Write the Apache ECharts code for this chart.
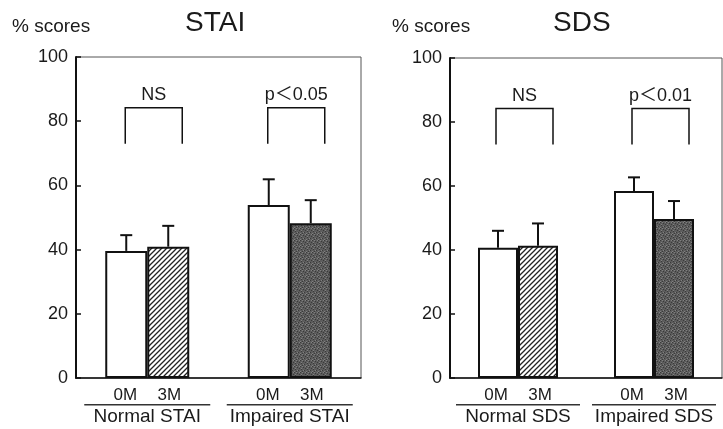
<!DOCTYPE html>
<html>
<head>
<meta charset="utf-8">
<script src="https://cdn.jsdelivr.net/npm/echarts@6/dist/echarts.min.js"></script>
<style>
  html, body { margin: 0; padding: 0; background: #fff; }
  #main { width: 723px; height: 429px; }
</style>
</head>
<body>
<div id="main"></div>
<script>
// 数据
var staiGroups = ['Normal STAI', 'Impaired STAI'];
var sdsGroups = ['Normal SDS', 'Impaired SDS'];
var timeLabels = ['0M', '3M'];
var stai0M = [39.6, 53.9];
var stai0MSd = [4.9, 8.0];
var stai3M = [40.9, 48.2];
var stai3MSd = [6.5, 7.2];
var sds0M = [40.7, 58.4];
var sds0MSd = [5.3, 4.3];
var sds3M = [41.3, 49.7];
var sds3MSd = [7.0, 5.6];
var staiMarks = ['NS', 'p＜0.05'];
var sdsMarks = ['NS', 'p＜0.01'];
var bracketTop = 84.2;
var bracketFoot = 73;

var FONT = '"Liberation Sans", Arial, "Noto Sans CJK SC", sans-serif';
var INK = '#111';
var TXT = '#1a1a1a';

// 斜线填充
function hatchCanvas() {
  var c = document.createElement('canvas');
  c.width = 5; c.height = 5;
  var g = c.getContext('2d');
  g.fillStyle = '#fff';
  g.fillRect(0, 0, 5, 5);
  g.strokeStyle = '#222';
  g.lineWidth = 1.3;
  g.beginPath();
  g.moveTo(0, 5); g.lineTo(5, 0);
  g.moveTo(-1, 1); g.lineTo(1, -1);
  g.moveTo(4, 6); g.lineTo(6, 4);
  g.stroke();
  return c;
}
// 点状灰色填充
function stippleCanvas() {
  var c = document.createElement('canvas');
  c.width = 6; c.height = 6;
  var g = c.getContext('2d');
  g.fillStyle = '#5c5c5c';
  g.fillRect(0, 0, 6, 6);
  g.fillStyle = '#3a3a3a';
  [[0, 0], [3, 1], [5, 2], [1, 3], [4, 4], [2, 5]].forEach(function (p) { g.fillRect(p[0], p[1], 1, 1); });
  g.fillStyle = '#808080';
  [[2, 0], [5, 0], [1, 2], [3, 4], [0, 5]].forEach(function (p) { g.fillRect(p[0], p[1], 1, 1); });
  return c;
}
var hatch = { image: hatchCanvas(), repeat: 'repeat' };
var stipple = { image: stippleCanvas(), repeat: 'repeat' };

function barSeries(p, m0, m3, bw) {
  return [{
    type: 'bar', xAxisIndex: p, yAxisIndex: p, barWidth: bw, barGap: '0%',
    data: m0,
    itemStyle: { color: '#fff', borderColor: INK, borderWidth: 2 },
    z: 2
  }, {
    type: 'bar', xAxisIndex: p, yAxisIndex: p, barWidth: bw, barGap: '0%',
    data: m3.map(function (v, i) {
      return { value: v, itemStyle: { color: i === 0 ? hatch : stipple } };
    }),
    itemStyle: { borderColor: INK, borderWidth: 2 },
    z: 2
  }];
}

// 误差线
function errorSeries(p, means, sds, side, bw) {
  return {
    type: 'custom', xAxisIndex: p, yAxisIndex: p, z: 3,
    data: means.map(function (m, i) { return [i, m, m + sds[i]]; }),
    renderItem: function (params, api) {
      var base = api.coord([api.value(0), api.value(1)]);
      var top = api.coord([api.value(0), api.value(2)]);
      var x = base[0] + side * bw / 2;
      return {
        type: 'group',
        children: [
          { type: 'line', shape: { x1: x, y1: base[1], x2: x, y2: top[1] }, style: { stroke: INK, lineWidth: 2 } },
          { type: 'line', shape: { x1: x - 6, y1: top[1], x2: x + 6, y2: top[1] }, style: { stroke: INK, lineWidth: 2 } }
        ]
      };
    }
  };
}

// 显著性括号
function bracketSeries(p, marks) {
  return {
    type: 'custom', xAxisIndex: p, yAxisIndex: p, z: 3,
    data: marks.map(function (t, i) { return [i, bracketTop, bracketFoot]; }),
    renderItem: function (params, api) {
      var top = api.coord([api.value(0), api.value(1)]);
      var foot = api.coord([api.value(0), api.value(2)]);
      var x0 = top[0] - 22, x1 = top[0] + 35;
      return {
        type: 'group',
        children: [
          { type: 'polyline', shape: { points: [[x0, foot[1]], [x0, top[1]], [x1, top[1]], [x1, foot[1]]] },
            style: { stroke: INK, lineWidth: 1.5, fill: null } },
          { type: 'text', x: (x0 + x1) / 2, y: top[1] - 4,
            style: { text: marks[params.dataIndex], fill: TXT, font: '18px ' + FONT, textAlign: 'center', textVerticalAlign: 'bottom' } }
        ]
      };
    }
  };
}

function yAxis(p) {
  return {
    type: 'value', gridIndex: p, min: 0, max: 100, interval: 20,
    axisLine: { show: true, lineStyle: { color: INK, width: 2 } },
    axisTick: { show: true, inside: true, length: 5, lineStyle: { color: INK, width: 1.5 } },
    axisLabel: { fontSize: 18, color: TXT, fontFamily: FONT, margin: 8 },
    splitLine: { show: false }
  };
}

function xAxis(p, groups, uw) {
  return {
    type: 'category', gridIndex: p, data: groups,
    axisLine: { lineStyle: { color: INK, width: 1.5 } },
    axisTick: { show: false },
    axisLabel: {
      margin: 8, interval: 0,
      formatter: function (v) {
        return '{m|' + timeLabels[0] + '}{m|' + timeLabels[1] + '}\n{u|\u00a0}\n{n|' + v + '}';
      },
      rich: {
        m: { width: 44, align: 'center', fontSize: 17, lineHeight: 18, color: TXT, fontFamily: FONT },
        u: { width: uw, height: 1.5, lineHeight: 1.5, fontSize: 1, backgroundColor: '#333' },
        n: { fontSize: 19, lineHeight: 22, color: TXT, fontFamily: FONT }
      }
    }
  };
}

var myChart = echarts.init(document.getElementById('main'));
myChart.setOption({
  backgroundColor: '#fff',
  animation: false,
  title: [
    { text: 'STAI', left: 185, top: 9, padding: 0, textStyle: { fontSize: 28, fontWeight: 'normal', color: TXT, fontFamily: FONT } },
    { text: 'SDS', left: 553, top: 9, padding: 0, textStyle: { fontSize: 28, fontWeight: 'normal', color: TXT, fontFamily: FONT } },
    { text: '% scores', left: 12, top: 17, padding: 0, textStyle: { fontSize: 19, fontWeight: 'normal', color: TXT, fontFamily: FONT } },
    { text: '% scores', left: 392, top: 17, padding: 0, textStyle: { fontSize: 19, fontWeight: 'normal', color: TXT, fontFamily: FONT } }
  ],
  grid: [
    { left: 76, top: 57, width: 285, height: 321, show: true, borderColor: '#555', borderWidth: 1 },
    { left: 450, top: 58, width: 272, height: 320, show: true, borderColor: '#555', borderWidth: 1 }
  ],
  xAxis: [xAxis(0, staiGroups, 126), xAxis(1, sdsGroups, 124)],
  yAxis: [yAxis(0), yAxis(1)],
  series: [].concat(
    barSeries(0, stai0M, stai3M, 42),
    [errorSeries(0, stai0M, stai0MSd, -1, 42), errorSeries(0, stai3M, stai3MSd, 1, 42), bracketSeries(0, staiMarks)],
    barSeries(1, sds0M, sds3M, 40),
    [errorSeries(1, sds0M, sds0MSd, -1, 40), errorSeries(1, sds3M, sds3MSd, 1, 40), bracketSeries(1, sdsMarks)]
  )
});
</script>
</body>
</html>
